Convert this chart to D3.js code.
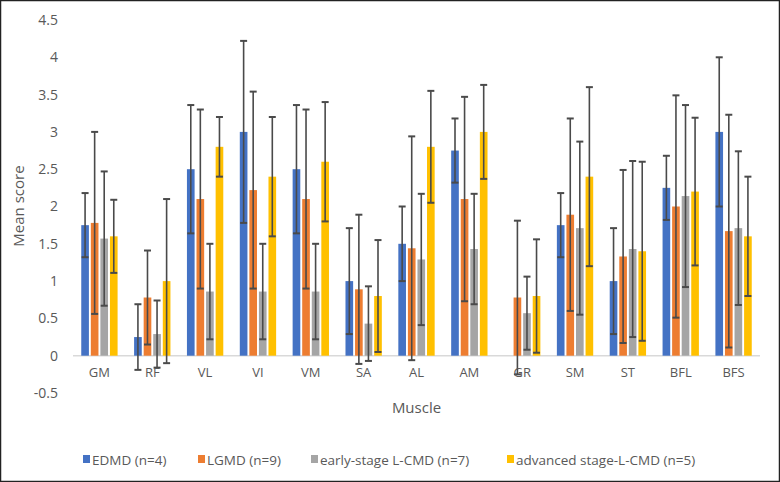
<!DOCTYPE html>
<html>
<head>
<meta charset="utf-8">
<script src="https://cdn.jsdelivr.net/npm/d3@7"></script>
<style>
  body { margin: 0; background: #fff; }
  text { font-family: "Open Sans", "Liberation Sans", sans-serif; fill: #595959; }
</style>
</head>
<body>
<div id="svg-area"></div>
<script>
var svgWidth = 780;
var svgHeight = 482;

// muscles on the x axis
var muscles = ["GM", "RF", "VL", "VI", "VM", "SA", "AL", "AM", "GR", "SM", "ST", "BFL", "BFS"];
var seriesNames = ["EDMD (n=4)", "LGMD (n=9)", "early-stage L-CMD (n=7)", "advanced stage-L-CMD (n=5)"];
var colors = ["#4472C4", "#ED7D31", "#A5A5A5", "#FFC000"];

// mean scores
var edmd     = [1.75, 0.25, 2.5, 3.0, 2.5, 1.0, 1.5, 2.75, 0, 1.75, 1.0, 2.25, 3.0];
var lgmd     = [1.78, 0.78, 2.1, 2.22, 2.1, 0.89, 1.44, 2.1, 0.78, 1.89, 1.33, 2.0, 1.67];
var early    = [1.57, 0.29, 0.86, 0.86, 0.86, 0.43, 1.29, 1.43, 0.57, 1.71, 1.43, 2.14, 1.71];
var advanced = [1.6, 1.0, 2.8, 2.4, 2.6, 0.8, 2.8, 3.0, 0.8, 2.4, 1.4, 2.2, 1.6];

// standard deviations (error bars)
var edmdErr     = [0.43, 0.44, 0.86, 1.22, 0.86, 0.71, 0.5, 0.43, 0, 0.43, 0.71, 0.43, 1.0];
var lgmdErr     = [1.22, 0.63, 1.2, 1.32, 1.2, 1.0, 1.5, 1.37, 1.03, 1.29, 1.16, 1.49, 1.56];
var earlyErr    = [0.9, 0.45, 0.64, 0.64, 0.64, 0.5, 0.88, 0.74, 0.49, 1.16, 1.18, 1.22, 1.03];
var advancedErr = [0.49, 1.1, 0.4, 0.8, 0.8, 0.75, 0.75, 0.63, 0.76, 1.2, 1.2, 0.99, 0.8];

var yTicks = [-0.5, 0, 0.5, 1, 1.5, 2, 2.5, 3, 3.5, 4, 4.5];

var means = [edmd, lgmd, early, advanced];
var errs = [edmdErr, lgmdErr, earlyErr, advancedErr];

var margin = { top: 20, right: 20, bottom: 89, left: 73 };
var chartWidth = svgWidth - margin.left - margin.right;
var chartHeight = svgHeight - margin.top - margin.bottom;

var svg = d3.select("#svg-area").append("svg")
  .attr("width", svgWidth)
  .attr("height", svgHeight);

// outer frame
svg.append("rect")
  .attr("x", 0.5).attr("y", 0.5)
  .attr("width", svgWidth - 1).attr("height", svgHeight - 1)
  .attr("fill", "none")
  .attr("stroke", "#222")
  .attr("stroke-width", 1.5);

var chartGroup = svg.append("g")
  .attr("transform", `translate(${margin.left}, ${margin.top})`);

var yScale = d3.scaleLinear()
  .domain([-0.5, 4.5])
  .range([chartHeight, 0]);

var xScale = d3.scaleBand()
  .domain(muscles)
  .range([0, chartWidth])
  .paddingInner(0.24)
  .paddingOuter(0.12);

var xSub = d3.scaleBand()
  .domain(d3.range(4))
  .range([0, xScale.bandwidth()])
  .padding(0.2);

// y tick labels (no axis line)
var yAxis = d3.axisLeft(yScale).tickValues(yTicks).tickSize(0).tickPadding(15)
  .tickFormat(function(d) { return String(d); });
var yG = chartGroup.append("g").call(yAxis);
yG.select(".domain").remove();
yG.selectAll("text").style("font-size", "14px").attr("fill", "#595959");

// zero line
chartGroup.append("line")
  .attr("x1", 0).attr("x2", chartWidth)
  .attr("y1", yScale(0)).attr("y2", yScale(0))
  .attr("stroke", "#d9d9d9")
  .attr("stroke-width", 1.5);

// bars
var groups = chartGroup.selectAll(".grp")
  .data(muscles)
  .enter()
  .append("g")
  .attr("class", "grp")
  .attr("transform", function(d) { return `translate(${xScale(d)},0)`; });

groups.each(function(m, i) {
  var g = d3.select(this);
  means.forEach(function(series, s) {
    var v = series[i];
    g.append("rect")
      .attr("x", xSub(s))
      .attr("width", xSub.bandwidth())
      .attr("y", yScale(Math.max(v, 0)))
      .attr("height", Math.abs(yScale(v) - yScale(0)))
      .attr("fill", colors[s]);
  });
  means.forEach(function(series, s) {
    var v = series[i];
    var e = errs[s][i];
    if (!e) return;
    var cx = xSub(s) + xSub.bandwidth() / 2;
    g.append("line")
      .attr("x1", cx).attr("x2", cx)
      .attr("y1", yScale(v + e)).attr("y2", yScale(v - e))
      .attr("stroke", "#4a4a4a").attr("stroke-width", 1.6);
    [v + e, v - e].forEach(function(end) {
      g.append("line")
        .attr("x1", cx - 3.5).attr("x2", cx + 3.5)
        .attr("y1", yScale(end)).attr("y2", yScale(end))
        .attr("stroke", "#4a4a4a").attr("stroke-width", 2);
    });
  });
});

// x category labels
var xAxis = d3.axisBottom(xScale).tickSize(0).tickPadding(12);
var xG = chartGroup.append("g")
  .attr("transform", `translate(0, ${yScale(0)})`)
  .call(xAxis);
xG.select(".domain").remove();
xG.selectAll("text").style("font-size", "13px").attr("fill", "#595959");

// axis titles
chartGroup.append("text")
  .attr("x", chartWidth / 2)
  .attr("y", 393)
  .attr("text-anchor", "middle")
  .style("font-size", "15px")
  .text("Muscle");

svg.append("text")
  .attr("transform", "translate(24, 206) rotate(-90)")
  .attr("text-anchor", "middle")
  .style("font-size", "15px")
  .text("Mean score");

// legend
var legendX = [83, 198, 311, 507];
var legend = svg.selectAll(".leg")
  .data(seriesNames)
  .enter()
  .append("g")
  .attr("class", "leg")
  .attr("transform", function(d, i) { return `translate(${legendX[i]}, 460)`; });

legend.append("rect")
  .attr("x", 0).attr("y", -5)
  .attr("width", 7).attr("height", 8)
  .attr("fill", function(d, i) { return colors[i]; });

legend.append("text")
  .attr("x", 9)
  .attr("y", 0)
  .attr("dy", "0.35em")
  .style("font-size", "13.5px")
  .text(function(d) { return d; });
</script>
</body>
</html>
